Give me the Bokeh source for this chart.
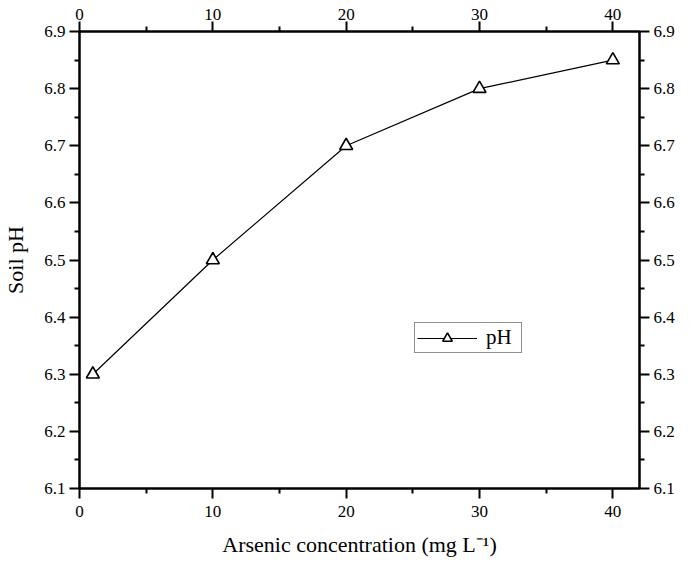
from bokeh.plotting import figure
from bokeh.models import (Range1d, LinearAxis, FixedTicker, PrintfTickFormatter,
                          Legend, LegendItem)
from bokeh.embed import file_html
from bokeh.resources import INLINE

# data
arsenic = [1, 10, 20, 30, 40]
soil_ph = [6.3, 6.5, 6.7, 6.8, 6.85]
x_ticks = [0, 10, 20, 30, 40]
x_minor = [5, 15, 25, 35]
y_ticks = [6.1, 6.2, 6.3, 6.4, 6.5, 6.6, 6.7, 6.8, 6.9]
y_minor = [6.15, 6.25, 6.35, 6.45, 6.55, 6.65, 6.75, 6.85]

FONT = "Liberation Serif"

p = figure(width=677, height=561, output_backend="svg", toolbar_location=None,
           x_range=Range1d(0, 42), y_range=Range1d(6.1, 6.9),
           x_axis_location=None, y_axis_location=None,
           min_border_left=78, min_border_right=31, min_border_top=31,
           min_border_bottom=73)
p.grid.visible = False
p.outline_line_color = "black"
p.outline_line_width = 2
p.background_fill_color = "white"
p.border_fill_color = "white"


def style(ax, label_size="17px", standoff=4):
    ax.axis_line_width = 2
    ax.axis_line_color = "black"
    ax.major_tick_line_width = 2
    ax.minor_tick_line_width = 2
    ax.major_tick_in = 0
    ax.major_tick_out = 10
    ax.minor_tick_in = 0
    ax.minor_tick_out = 5
    ax.major_label_text_font = FONT
    ax.major_label_text_font_size = label_size
    ax.major_label_text_color = "black"
    ax.major_label_standoff = standoff
    ax.axis_label_text_font = FONT
    ax.axis_label_text_font_size = "22px"
    ax.axis_label_text_font_style = "normal"
    ax.axis_label_text_color = "black"


xt = FixedTicker(ticks=x_ticks, minor_ticks=x_minor)
yt = FixedTicker(ticks=y_ticks, minor_ticks=y_minor)
yf = PrintfTickFormatter(format="%.1f")

bottom = LinearAxis(ticker=xt, axis_label="Arsenic concentration (mg L\u207b\u00b9)")
style(bottom, standoff=7)
bottom.axis_label_standoff = 12
top = LinearAxis(ticker=xt)
style(top, standoff=2)
left = LinearAxis(ticker=yt, formatter=yf, axis_label="Soil pH")
style(left)
left.axis_label_standoff = 13
right = LinearAxis(ticker=yt, formatter=yf)
style(right)

p.add_layout(bottom, "below")
p.add_layout(top, "above")
p.add_layout(left, "left")
p.add_layout(right, "right")

ln = p.line(arsenic, soil_ph, line_color="black", line_width=1.2)
sc = p.scatter(arsenic, soil_ph, marker="triangle", size=13,
               fill_color="white", line_color="black", line_width=1.6)

legend = Legend(items=[LegendItem(label="pH", renderers=[ln, sc])],
                location=(335, 135), orientation="vertical")
legend.label_text_font = FONT
legend.label_text_font_size = "21px"
legend.label_text_color = "black"
legend.glyph_width = 60
legend.glyph_height = 24
legend.label_height = 20
legend.label_width = 33
legend.label_standoff = 9
legend.padding = 2
legend.margin = 0
legend.spacing = 0
legend.border_line_color = "#222222"
legend.border_line_width = 1.5
legend.background_fill_alpha = 1.0
p.add_layout(legend)

open("out.html", "w").write(file_html(p, INLINE))
